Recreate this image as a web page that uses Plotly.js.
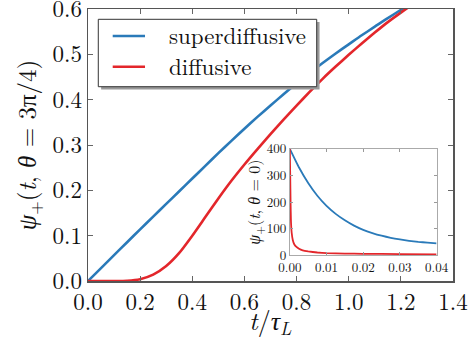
<!DOCTYPE html>
<html>
<head>
<meta charset="utf-8">
<script src="https://cdn.plot.ly/plotly-3.0.1.min.js"></script>
<style>html,body{margin:0;padding:0;background:#fff;}#chart{width:476px;height:339px;}</style>
</head>
<body>
<div id="chart"></div>
<script>
// Main panel: psi_+(t, theta = 3pi/4) vs t/tau_L
const tMain = [0, 0.05, 0.1, 0.15, 0.2, 0.25, 0.3, 0.35, 0.4, 0.45, 0.5, 0.55, 0.6, 0.65, 0.7, 0.75, 0.8, 0.85, 0.9, 0.95, 1.0, 1.05, 1.1, 1.15, 1.2, 1.25, 1.3];
const superMain = [0, 0.0285, 0.057, 0.0855, 0.114, 0.142, 0.170, 0.198, 0.226, 0.254, 0.282, 0.309, 0.336, 0.362, 0.387, 0.412, 0.436, 0.459, 0.481, 0.502, 0.522, 0.542, 0.561, 0.580, 0.598, 0.616, 0.634];
const diffMain = [0, 0, 0, 0.0005, 0.004, 0.014, 0.033, 0.062, 0.1, 0.141, 0.182, 0.221, 0.257, 0.291, 0.324, 0.356, 0.387, 0.417, 0.446, 0.473, 0.499, 0.524, 0.548, 0.571, 0.592, 0.612, 0.631];

// Inset: psi_+(t, theta = 0)
const tInsetSuper = [0, 0.0025, 0.005, 0.0075, 0.01, 0.0125, 0.015, 0.0175, 0.02, 0.0225, 0.025, 0.0275, 0.03, 0.0325, 0.035, 0.0375, 0.04];
const superInset = [400, 330, 272, 224, 186, 156, 132, 112, 96, 84, 74, 66, 60, 55, 51, 48, 45];
const tInsetDiff = [0, 0.0001, 0.0002, 0.0003, 0.0005, 0.0008, 0.0012, 0.0018, 0.0025, 0.0035, 0.005, 0.0075, 0.01, 0.015, 0.02, 0.03, 0.04];
const diffInset = [400, 300, 200, 130, 85, 58, 42, 32, 25, 19, 15, 11, 9, 7, 6, 5, 4];

const seriesNames = ['superdiffusive', 'diffusive'];
const mainTicksX = [0, 0.2, 0.4, 0.6, 0.8, 1.0, 1.2, 1.4];
const mainTicksY = [0, 0.1, 0.2, 0.3, 0.4, 0.5, 0.6];
const insetTicksX = [0, 0.01, 0.02, 0.03, 0.04];
const insetTicksY = [0, 100, 200, 300, 400];
const xTitle = '<i>t</i>/<i>τ</i><sub><i>L</i></sub>';
const yTitle = '<i>ψ</i><sub>+</sub>(<i>t</i>, <i>θ</i> = 3π/4)';
const yInsetTitle = '<i>ψ</i><sub>+</sub>(<i>t</i>, <i>θ</i> = 0)';

const BLUE = '#2a7ab9';
const RED = '#e3262b';
const FONT = 'Latin Modern Roman';

const traces = [
  {x: tMain, y: superMain, name: seriesNames[0], mode: 'lines', line: {color: BLUE, width: 2.6, shape: 'spline', smoothing: 0.6}, xaxis: 'x', yaxis: 'y'},
  {x: tMain, y: diffMain, name: seriesNames[1], mode: 'lines', line: {color: RED, width: 2.6, shape: 'spline', smoothing: 0.6}, xaxis: 'x', yaxis: 'y'},
  {x: tInsetSuper, y: superInset, name: seriesNames[0], mode: 'lines', line: {color: BLUE, width: 1.8, shape: 'spline', smoothing: 0.5}, xaxis: 'x2', yaxis: 'y2'},
  {x: tInsetDiff, y: diffInset, name: seriesNames[1], mode: 'lines', line: {color: RED, width: 1.8, shape: 'spline', smoothing: 0.3}, xaxis: 'x2', yaxis: 'y2'}
];

const axMain = {
  showgrid: false, zeroline: false, showline: true, linecolor: '#555', linewidth: 1.5,
  mirror: 'ticks', ticks: 'inside', ticklen: 5, tickwidth: 1, tickcolor: '#666',
  ticklabeloverflow: 'allow',
  tickfont: {family: FONT, size: 23, color: '#111'}
};
const axInset = {
  showgrid: false, zeroline: false, showline: true, linecolor: '#aaa', linewidth: 1,
  mirror: 'ticks', ticks: 'inside', ticklen: 3, tickwidth: 1, tickcolor: '#999',
  ticklabeloverflow: 'allow',
  tickfont: {family: FONT, size: 13, color: '#111'}
};

// legend geometry (paper fractions of the main plotting area)
const LEG = {x0: 0.0282, x1: 0.6266, y0: 0.7143, y1: 0.9621, sh: 0.0078, shy: 0.0099,
             lx0: 0.0677, lx1: 0.1562, tx: 0.2173, rows: [0.9007, 0.7879]};
const legendColors = [BLUE, RED];

const shapes = [
  {type: 'rect', xref: 'paper', yref: 'paper', x0: LEG.x0 + LEG.sh, x1: LEG.x1 + LEG.sh, y0: LEG.y0 - LEG.shy, y1: LEG.y1 - LEG.shy,
   fillcolor: '#9a9a9a', line: {width: 0}, layer: 'above'},
  {type: 'rect', xref: 'paper', yref: 'paper', x0: LEG.x0, x1: LEG.x1, y0: LEG.y0, y1: LEG.y1,
   fillcolor: '#ffffff', line: {color: '#333', width: 1}, layer: 'above'}
];
const annotations = [
  {xref: 'paper', yref: 'paper', x: 0.5, y: -0.146, xanchor: 'center', yanchor: 'middle',
   text: xTitle, showarrow: false, font: {family: FONT, size: 26, color: '#111'}}
];
seriesNames.forEach((nm, i) => {
  shapes.push({type: 'line', xref: 'paper', yref: 'paper', x0: LEG.lx0, x1: LEG.lx1, y0: LEG.rows[i], y1: LEG.rows[i],
               line: {color: legendColors[i], width: 2.6}, layer: 'above'});
  annotations.push({xref: 'paper', yref: 'paper', x: LEG.tx, y: LEG.rows[i] + 0.006, xanchor: 'left', yanchor: 'middle',
                    text: nm, showarrow: false, font: {family: FONT, size: 23, color: '#111'}});
});

const layout = {
  width: 476, height: 339,
  margin: {l: 88, r: 23, t: 9, b: 58},
  paper_bgcolor: '#fff', plot_bgcolor: '#fff',
  font: {family: FONT, color: '#111'},
  showlegend: false,
  xaxis: Object.assign({}, axMain, {
    domain: [0, 1], range: [0, 1.4], tickvals: mainTicksX, tickformat: '.1f'
  }),
  yaxis: Object.assign({}, axMain, {
    domain: [0, 1], range: [0, 0.6], tickvals: mainTicksY, tickformat: '.1f',
    title: {text: yTitle, font: {family: FONT, size: 25, color: '#111'}, standoff: 8}
  }),
  xaxis2: Object.assign({}, axInset, {
    domain: [0.553, 0.955], range: [0, 0.04], tickvals: insetTicksX, tickformat: '.2f', anchor: 'y2'
  }),
  yaxis2: Object.assign({}, axInset, {
    domain: [0.094, 0.486], range: [0, 400], tickvals: insetTicksY, anchor: 'x2',
    title: {text: yInsetTitle, font: {family: FONT, size: 16, color: '#111'}, standoff: 0}
  }),
  shapes: shapes,
  annotations: annotations
};

Plotly.newPlot('chart', traces, layout, {displayModeBar: false, staticPlot: true});
</script>
</body>
</html>
